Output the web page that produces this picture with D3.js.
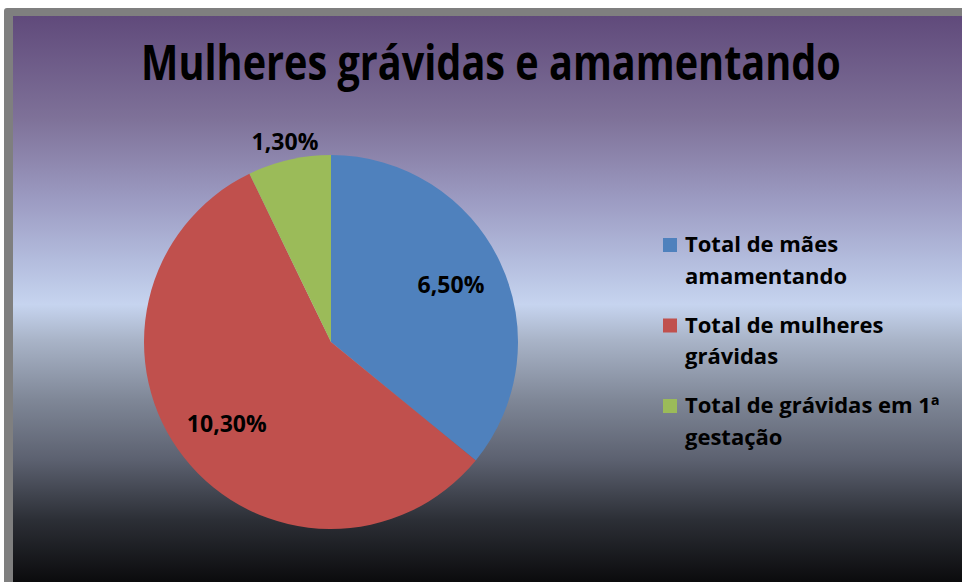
<!DOCTYPE html>
<html><head><meta charset="utf-8">
<script src="https://cdn.jsdelivr.net/npm/d3@7"></script>
<style>html,body{margin:0;padding:0;background:#fff;overflow:hidden}</style>
</head><body>
<svg id="chart" width="962" height="582"></svg>
<script>
const title = "Mulheres grávidas e amamentando";
const categories = ["Total de mães amamentando", "Total de mulheres grávidas", "Total de grávidas em 1ª gestação"];
const legendLines = [["Total de mães", "amamentando"], ["Total de mulheres", "grávidas"], ["Total de grávidas em 1ª", "gestação"]];
const values = [6.5, 10.3, 1.3];
const labels = ["6,50%", "10,30%", "1,30%"];
const colors = ["#4f81bd", "#c0504d", "#9bbb59"];

const svg = d3.select("#chart");
const font = "'Open Sans', 'DejaVu Sans', sans-serif";

// background gradient
const defs = svg.append("defs");
const grad = defs.append("linearGradient").attr("id", "bg").attr("x1", 0).attr("y1", 0).attr("x2", 0).attr("y2", 1);
[[0, "#604a7b"], [0.184, "#7f7299"], [0.325, "#9c9bc2"], [0.431, "#b3bcdd"], [0.51, "#c6d4ef"],
 [0.572, "#a9b4c8"], [0.678, "#7f8797"], [0.784, "#5c6170"], [0.89, "#2c2f36"], [1, "#0b0b0d"]]
  .forEach(([o, c]) => grad.append("stop").attr("offset", o).attr("stop-color", c));

svg.append("rect").attr("x", 4).attr("y", 8).attr("width", 980).attr("height", 600).attr("rx", 3).attr("fill", "#7f7f7f");
svg.append("rect").attr("x", 13).attr("y", 16).attr("width", 970).attr("height", 566).attr("fill", "url(#bg)");

// title (condensed horizontally to mimic a narrow bold face)
const tg = svg.append("g");
const tt = tg.append("text").attr("x", 0).attr("y", 0).attr("text-anchor", "middle")
  .attr("font-family", font).attr("font-weight", 700).attr("font-size", 49)
  .attr("fill", "#000").text(title);
const natural = tt.node().getComputedTextLength();
const sx = 700 / natural;
tg.attr("transform", `translate(491,80) scale(${sx},1)`);

// pie
const cx = 331, cy = 342, r = 187;
const pie = d3.pie().sort(null).value(d => d)(values);
const arc = d3.arc().innerRadius(0).outerRadius(r);
const g = svg.append("g").attr("transform", `translate(${cx},${cy})`);
g.selectAll("path").data(pie).join("path").attr("d", arc).attr("fill", (d, i) => colors[i]);

const inArc = d3.arc().innerRadius(r * 0.71).outerRadius(r * 0.71);
const outArc = d3.arc().innerRadius(r * 1.1).outerRadius(r * 1.1);
g.selectAll("text.lbl").data(pie).join("text").attr("class", "lbl")
  .attr("transform", (d, i) => {
    const c = (d.endAngle - d.startAngle) < 0.6 ? outArc.centroid(d) : inArc.centroid(d);
    return `translate(${c[0]},${c[1]})`;
  })
  .attr("text-anchor", "middle").attr("dy", "0.35em")
  .attr("font-family", font).attr("font-weight", 700).attr("font-size", 23)
  .attr("fill", "#000").text((d, i) => labels[i]);

// legend
const lg = svg.append("g");
categories.forEach((c, i) => {
  const y0 = 252 + i * 80.5;
  lg.append("rect").attr("x", 663).attr("y", y0 - 14).attr("width", 14).attr("height", 14).attr("fill", colors[i]);
  legendLines[i].forEach((ln, j) => {
    lg.append("text").attr("x", 685).attr("y", y0 + j * 31.5)
      .attr("font-family", font).attr("font-weight", 700).attr("font-size", 22)
      .attr("fill", "#000").text(ln);
  });
});
</script>
</body></html>
